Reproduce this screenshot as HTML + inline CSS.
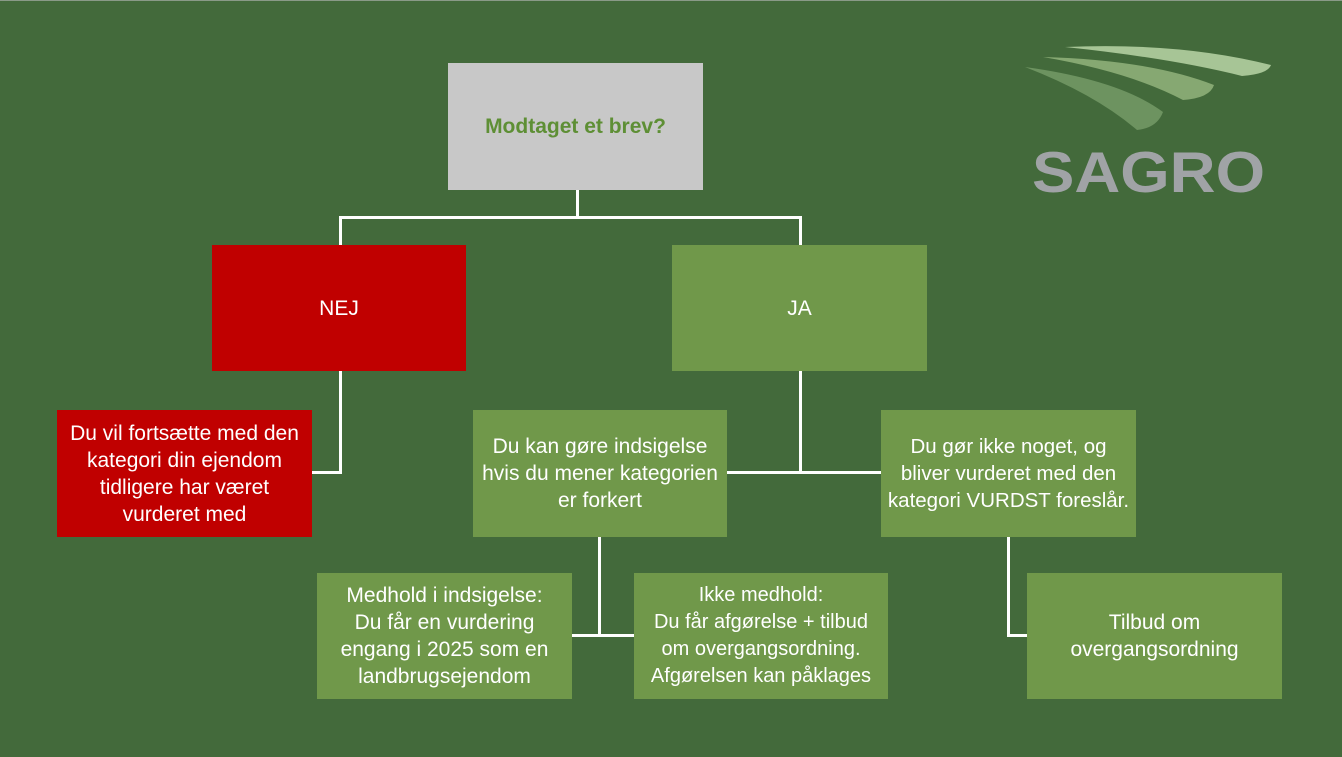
<!DOCTYPE html>
<html><head><meta charset="utf-8"><style>
html,body{margin:0;padding:0}
body{width:1342px;height:757px;background:#436a3b;position:relative;overflow:hidden;font-family:"Liberation Sans",sans-serif}
.b{position:absolute;display:flex;align-items:center;justify-content:center;text-align:center;color:#fff;font-size:21px;line-height:27px;box-sizing:border-box;white-space:nowrap}
.g{background:#70984a}
.r{background:#c00000}
.l{position:absolute;background:#fff}
</style></head><body>
<div style="position:absolute;left:0;top:0;width:1342px;height:1px;background:#8a9a88"></div>
<div class="b" style="left:448px;top:63px;width:255px;height:127px;background:#c8c8c8;color:#5e8f35;font-weight:bold;font-size:21px">Modtaget et brev?</div>
<div class="l" style="left:576px;top:190px;width:3px;height:28px"></div>
<div class="l" style="left:339px;top:216px;width:463px;height:3px"></div>
<div class="l" style="left:339px;top:216px;width:3px;height:29px"></div>
<div class="l" style="left:799px;top:216px;width:3px;height:29px"></div>
<div class="b r" style="left:212px;top:245px;width:254px;height:126px">NEJ</div>
<div class="b g" style="left:672px;top:245px;width:255px;height:126px">JA</div>
<div class="l" style="left:339px;top:371px;width:3px;height:103px"></div>
<div class="l" style="left:312px;top:471px;width:30px;height:3px"></div>
<div class="l" style="left:799px;top:371px;width:3px;height:103px"></div>
<div class="l" style="left:727px;top:471px;width:154px;height:3px"></div>
<div class="b r" style="left:57px;top:410px;width:255px;height:127px">Du vil fortsætte med den<br>kategori din ejendom<br>tidligere har været<br>vurderet med</div>
<div class="b g" style="left:473px;top:410px;width:254px;height:127px">Du kan gøre indsigelse<br>hvis du mener kategorien<br>er forkert</div>
<div class="b g" style="left:881px;top:410px;width:255px;height:127px;font-size:20.5px">Du gør ikke noget, og<br>bliver vurderet med den<br>kategori VURDST foreslår.</div>
<div class="l" style="left:598px;top:537px;width:3px;height:99px"></div>
<div class="l" style="left:572px;top:634px;width:62px;height:3px"></div>
<div class="l" style="left:1007px;top:537px;width:3px;height:99px"></div>
<div class="l" style="left:1007px;top:634px;width:20px;height:3px"></div>
<div class="b g" style="left:317px;top:573px;width:255px;height:126px">Medhold i indsigelse:<br>Du får en vurdering<br>engang i 2025 som en<br>landbrugsejendom</div>
<div class="b g" style="left:634px;top:573px;width:254px;height:126px;font-size:20px">Ikke medhold:<br>Du får afgørelse + tilbud<br>om overgangsordning.<br>Afgørelsen kan påklages</div>
<div class="b g" style="left:1027px;top:573px;width:255px;height:126px">Tilbud om<br>overgangsordning</div>
<svg style="position:absolute;left:1010px;top:30px" width="280" height="180" viewBox="0 0 280 180">
<path d="M55 17 Q170 12 261 35 Q258 44 232 46 Q160 28 55 17 Z" fill="#a7c596"/>
<path d="M33 27 Q140 30 204 55 Q200 68 173 70 Q120 42 33 27 Z" fill="#86a872"/>
<path d="M15 37 Q110 50 153 82 Q147 98 127 100 Q85 64 15 37 Z" fill="#6d9360"/>
<text x="0" y="0" transform="translate(22,162) scale(1,1.05)" font-family="Liberation Sans,sans-serif" font-weight="bold" font-size="55" fill="#a0a3a6" textLength="233" lengthAdjust="spacingAndGlyphs">SAGRO</text>
</svg>
</body></html>
